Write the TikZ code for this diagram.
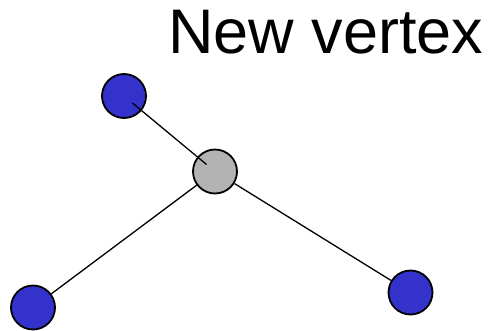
\documentclass[tikz,border=0pt]{standalone}
\usepackage{fontspec}
\setmainfont{Liberation Sans}
\usetikzlibrary{positioning}
\definecolor{vblue}{HTML}{3333CC}
\definecolor{vgray}{HTML}{B3B3B3}
\tikzset{
  vertex/.style={circle,draw=black,fill=vblue,line width=1.8pt,
    minimum size=44pt,inner sep=0pt},
  newvertex/.style={vertex,fill=vgray},
  edge/.style={draw=black,line width=1.3pt},
  caption/.style={font=\fontsize{63}{63}\selectfont,inner sep=0pt,anchor=base west}
}
\begin{document}
\begin{tikzpicture}[x=1pt,y=-1pt]
  \useasboundingbox (0,0) rectangle (492,331);
  \node[caption] (title) at (168,54) {New vertex};
  \node[vertex] (a) at (124,96) {};
  \node[newvertex] (n) at (215,171.5) {};
  \node[vertex] (b) at (33,307.5) {};
  \node[vertex] (c) at (410.5,292.5) {};
  \draw[edge] (n) -- (b);
  \draw[edge] (n) -- (c);
  \draw[edge,shorten <=11pt,shorten >=11pt] (a.center) -- (n.center);
\end{tikzpicture}
\end{document}
